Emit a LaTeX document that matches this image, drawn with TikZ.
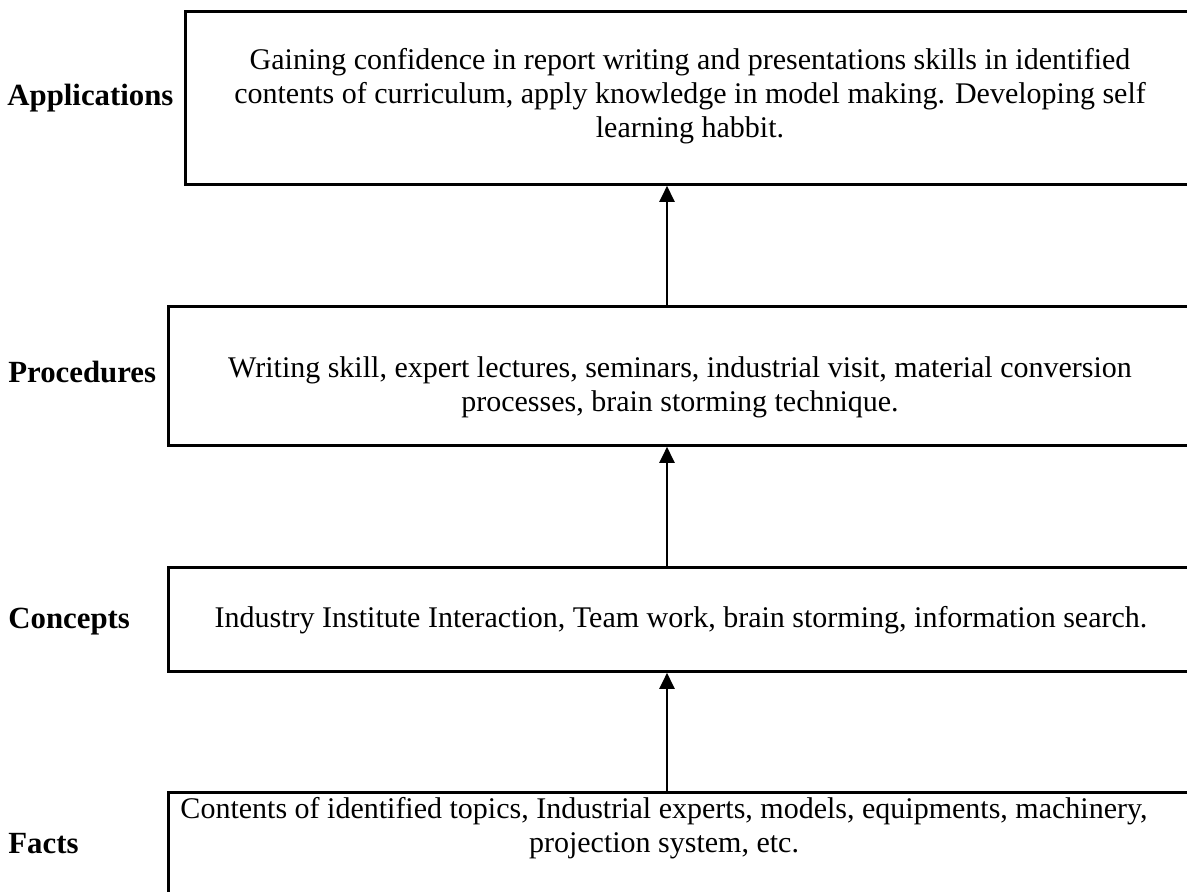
\documentclass[tikz,border=0pt]{standalone}
\usepackage{fontspec}
\setmainfont{Liberation Serif}
\usetikzlibrary{arrows.meta}
\begin{document}
\begin{tikzpicture}[x=0.5pt,y=-0.5pt,
  box/.style={draw, line width=1.4pt, anchor=north west, inner sep=0pt},
  txt/.style={font=\fontsize{15}{17}\selectfont, align=center, inner sep=0pt},
  lbl/.style={font=\fontsize{15.4}{17}\selectfont\bfseries, anchor=west, inner sep=0pt},
  conn/.style={line width=1.1pt, -{Triangle[length=8pt,width=7.5pt]}}]
\useasboundingbox (0,0) rectangle (1187,892);
\clip (0,0) rectangle (1187,892);
% boxes (they run past the right and bottom edge of the picture)
\node[box, minimum width=533pt, minimum height=86.5pt] (app) at (184,10) {};
\node[box, minimum width=541.5pt, minimum height=69.5pt] (proc) at (167,305) {};
\node[box, minimum width=541.5pt, minimum height=52pt] (conc) at (167,566) {};
\node[box, minimum width=541.5pt, minimum height=100pt] (facts) at (167,791) {};
% texts
\node[txt] (apptext) at (690,96) {Gaining confidence in report writing and presentations skills in identified\\contents of curriculum, apply knowledge in model making. Developing self\\learning habbit.};
\node[txt] (proctext) at (680,387) {Writing skill, expert lectures, seminars, industrial visit, material conversion\\processes, brain storming technique.};
\node[txt] (conctext) at (681,620) {Industry Institute Interaction, Team work, brain storming, information search.};
\node[txt] (factstext) at (664,828) {Contents of identified topics, Industrial experts, models, equipments, machinery,\\projection system, etc.};
% labels
\node[lbl] (applbl) at (7,98) {Applications};
\node[lbl] (proclbl) at (8,372) {Procedures};
\node[lbl] (conclbl) at (8,622) {Concepts};
\node[lbl] (factslbl) at (8,844) {Facts};
% connectors
\coordinate (ax) at (667,0);
\draw[conn] (facts.north -| ax) -- (conc.south -| ax);
\draw[conn] (conc.north -| ax) -- (proc.south -| ax);
\draw[conn] (proc.north -| ax) -- (app.south -| ax);
\end{tikzpicture}
\end{document}
